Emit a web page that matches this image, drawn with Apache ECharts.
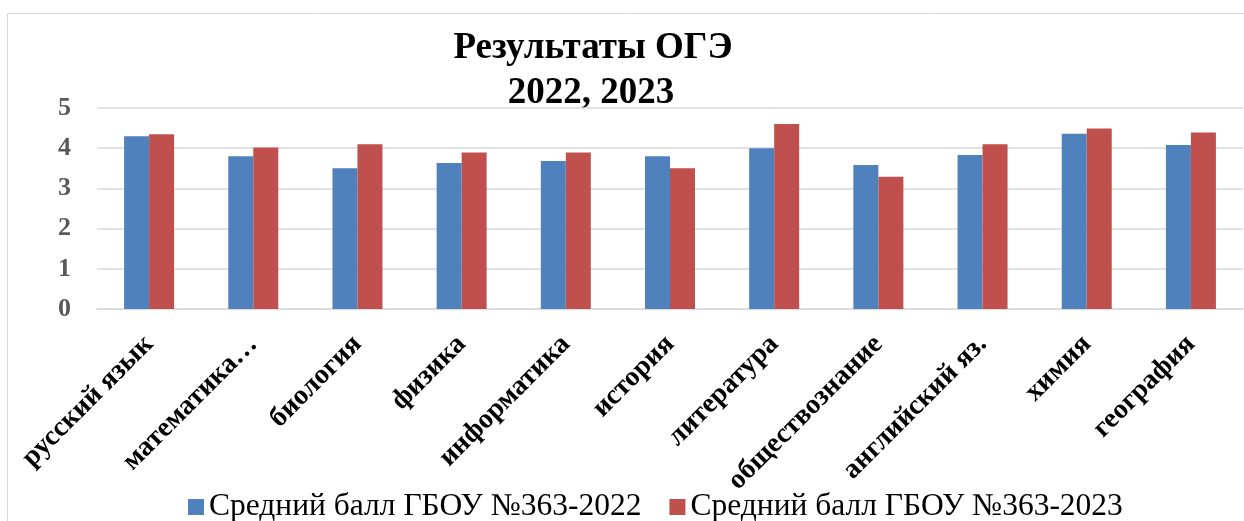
<!DOCTYPE html>
<html>
<head>
<meta charset="utf-8">
<title>Результаты ОГЭ 2022, 2023</title>
<script src="https://cdn.jsdelivr.net/npm/echarts@6/dist/echarts.min.js"></script>
<style>
  html, body { margin: 0; padding: 0; background: #fff; }
  #chart { width: 1244px; height: 521px; }
</style>
</head>
<body>
<div id="chart"></div>
<script>
// subjects on the x axis
const categories = ['русский язык', 'математика…', 'биология', 'физика', 'информатика', 'история',
  'литература', 'обществознание', 'английский яз.', 'химия', 'география']

// average scores
const score2022 = [4.3, 3.8, 3.5, 3.63, 3.68, 3.8, 4.0, 3.58, 3.83, 4.36, 4.08]
const score2023 = [4.35, 4.02, 4.1, 3.89, 3.89, 3.5, 4.6, 3.29, 4.1, 4.49, 4.39]

const seriesNames = ['Средний балл ГБОУ №363-2022', 'Средний балл ГБОУ №363-2023']
const titleLines = ['Результаты ОГЭ', '2022, 2023']

const serif = "'Liberation Serif', 'Times New Roman', serif"

let chart = echarts.init(document.getElementById('chart'))

chart.setOption({
  animation: false,
  color: ['#4F81BD', '#C0504D'],
  graphic: [
    {
      type: 'rect', z: -1, silent: true,
      shape: { x: 7.5, y: 13.5, width: 1400, height: 700 },
      style: { fill: 'none', stroke: '#d9d9d9', lineWidth: 1 }
    },
    {
      type: 'text', x: 593, y: 48,
      style: { text: titleLines[0], font: 'bold 37px ' + serif, fill: '#000', align: 'center', verticalAlign: 'middle' }
    },
    {
      type: 'text', x: 591, y: 93,
      style: { text: titleLines[1], font: 'bold 37px ' + serif, fill: '#000', align: 'center', verticalAlign: 'middle' }
    }
  ],
  legend: {
    left: 183,
    top: 486,
    icon: 'rect',
    itemWidth: 16,
    itemHeight: 16,
    itemGap: 28,
    textStyle: { fontFamily: serif, fontSize: 31.5, color: '#000' },
    data: seriesNames
  },
  grid: {
    left: 97,
    right: 1,
    top: 108,
    bottom: 212,
    outerBoundsMode: 'none'
  },
  xAxis: {
    type: 'category',
    data: categories,
    axisTick: { show: false },
    axisLine: { lineStyle: { color: '#d9d9d9', width: 1.5 } },
    axisLabel: {
      interval: 0,
      rotate: 45,
      margin: 31,
      fontFamily: serif,
      fontSize: 28,
      fontWeight: 'bold',
      color: '#000'
    }
  },
  yAxis: {
    type: 'value',
    min: 0,
    max: 5,
    interval: 1,
    axisLine: { show: false },
    axisTick: { show: false },
    splitLine: { lineStyle: { color: '#d9d9d9', width: 1.5 } },
    axisLabel: {
      margin: 26,
      fontFamily: serif,
      fontSize: 26,
      fontWeight: 'bold',
      color: '#595959'
    }
  },
  series: [
    {
      name: seriesNames[0],
      type: 'bar',
      data: score2022,
      barWidth: 25,
      barGap: '0%'
    },
    {
      name: seriesNames[1],
      type: 'bar',
      data: score2023,
      barWidth: 25,
      barGap: '0%'
    }
  ]
})
</script>
</body>
</html>
